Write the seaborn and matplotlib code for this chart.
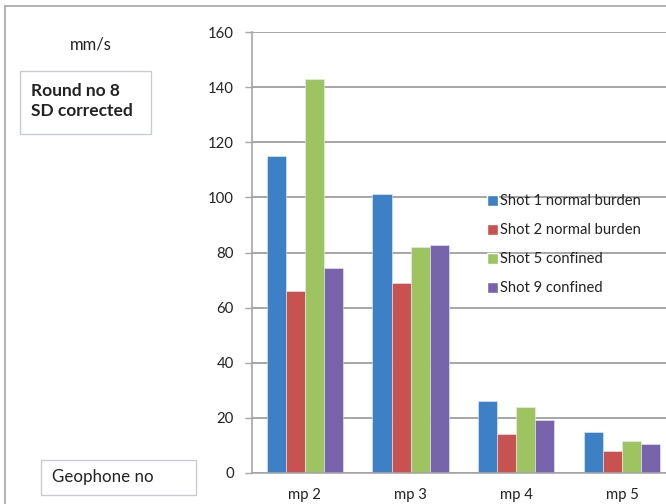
import numpy as np
import pandas as pd
import matplotlib
matplotlib.use("Agg")
import matplotlib.pyplot as plt
from matplotlib.patches import Rectangle
from matplotlib.lines import Line2D
import seaborn as sns

# Peak particle velocity per geophone, round no 8 (SD corrected)
geophones = ["mp 2", "mp 3", "mp 4", "mp 5"]
series = ["Shot 1 normal burden", "Shot 2 normal burden", "Shot 5 confined", "Shot 9 confined"]
shot1 = [115, 101.2, 26, 15]
shot2 = [66, 69, 14.2, 8]
shot5 = [143, 82, 23.8, 11.6]
shot9 = [74.4, 82.7, 19.3, 10.6]
yticks = [0, 20, 40, 60, 80, 100, 120, 140, 160]

colors = ["#3D80C5", "#C8524F", "#9DC461", "#7864AC"]

df = pd.DataFrame({
    "geophone": geophones * 4,
    "shot": np.repeat(series, 4),
    "mm_s": shot1 + shot2 + shot5 + shot9,
})

sns.set_style("white")
plt.rcParams["font.family"] = ["Lato", "DejaVu Sans"]
grey = "#A6A6A6"
txt = "#222222"

fig = plt.figure(figsize=(6.66, 5.04), dpi=100)
W, H = 666, 504
# axes: y-axis at x=252, 0 at y=473, 160 at y=32, categories 105.7 px apart
ax = fig.add_axes([252 / W, 1 - 473 / H, 4 * 105.7 / W, (473 - 32) / H])

sns.barplot(data=df, x="geophone", y="mm_s", hue="shot", palette=colors,
            width=0.72, saturation=1, edgecolor="#E8EEF5", linewidth=0.4,
            ax=ax, legend=False)

ax.set_xlim(-0.5, 3.5)
ax.set_ylim(0, 160)
ax.set_yticks(yticks)
ax.yaxis.grid(True, color=grey, linewidth=1.4)
ax.set_axisbelow(True)
ax.set_xlabel("")
ax.set_ylabel("")
for s in ["top", "right"]:
    ax.spines[s].set_visible(False)
for s in ["left", "bottom"]:
    ax.spines[s].set_color(grey)
    ax.spines[s].set_linewidth(1.2)

ax.tick_params(axis="y", length=5, width=1, color=grey, direction="out",
               labelsize=10.7, labelcolor=txt, pad=8, left=True)
ax.set_xticks(range(len(geophones)))
ax.set_xticklabels(geophones)
ax.tick_params(axis="x", which="major", length=0, labelsize=10.7, labelcolor=txt, pad=11)
ax.set_xticks([-0.5, 0.5, 1.5, 2.5], minor=True)
ax.tick_params(axis="x", which="minor", length=5, width=1, color=grey, direction="out")

handles = [Rectangle((0, 0), 1, 1, facecolor=c) for c in colors]
fig.legend(handles, series, loc="upper left", bbox_to_anchor=(480 / W, 1 - 187 / H),
           frameon=False, fontsize=10.6, handlelength=0.75, handleheight=0.75,
           handletextpad=0.12, labelspacing=1.02, borderpad=0, labelcolor=txt)

# outer chart border (right and bottom are cut off)
fig.add_artist(Line2D([5 / W, 5 / W], [0, 1 - 6 / H], color=grey, linewidth=1.2))
fig.add_artist(Line2D([5 / W, 1], [1 - 6 / H, 1 - 6 / H], color=grey, linewidth=1.2))

fig.text(91 / W, 1 - 45 / H, "mm/s", fontsize=12, color=txt, ha="center", va="center")

box = "#C8CCD0"
fig.add_artist(Rectangle((20 / W, 1 - 134 / H), 131 / W, 63 / H,
                         transform=fig.transFigure, fill=False, edgecolor=box, linewidth=1))
fig.text(31 / W, 1 - 101 / H, "Round no 8\nSD corrected", fontsize=12.5,
         fontweight="bold", color=txt, ha="left", va="center", linespacing=1.3)

fig.add_artist(Rectangle((41 / W, 1 - 495 / H), 155 / W, 35 / H,
                         transform=fig.transFigure, fill=False, edgecolor=box, linewidth=1))
fig.text(52 / W, 1 - 477 / H, "Geophone no", fontsize=12.2, color=txt,
         ha="left", va="center")

fig.savefig("out.png", dpi=100)
